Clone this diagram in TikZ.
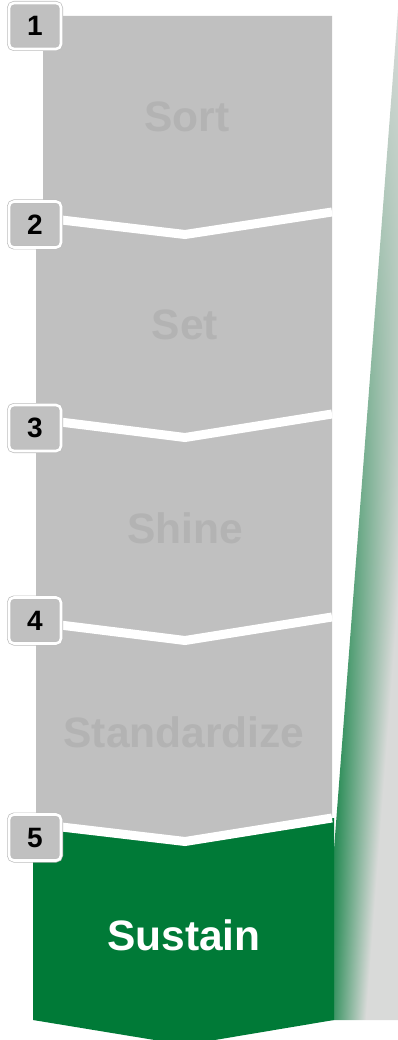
\documentclass[tikz,border=0pt]{standalone}
\usepackage{fontspec}
\setmainfont{Liberation Sans}
\usepackage{tikz}

\definecolor{stepgrey}{HTML}{C0C0C0}
\definecolor{stepgreen}{HTML}{007A37}
\definecolor{labelgrey}{HTML}{B3B3B3}
\definecolor{rimgrey}{HTML}{BDBDBD}

% green fading into grey, left edge follows the slant, paler towards the top
\pgfdeclarefunctionalshading{stepshade}{\pgfpointorigin}{\pgfpoint{100bp}{100bp}}{}{
  2 copy sub 2 mul 58 div
  dup 0 lt {pop 0} if dup 1 gt {pop 1} if
  1 exch sub
  exch 25 sub 50 div
  dup 0 lt {pop 0} if dup 1 gt {pop 1} if
  1 exch sub
  mul exch pop
  dup 0.851 mul 0.851 exch sub exch
  dup 0.377 mul 0.855 exch sub exch
  0.635 mul 0.851 exch sub
}

\begin{document}
\begin{tikzpicture}[
  x=1pt, y=-1pt,
  stepname/.style={font=\bfseries\fontsize{42.5}{42.5}\selectfont, text=labelgrey},
  stepnum/.style={draw=rimgrey, double=white, double distance=2.6pt, line width=0.7pt,
    fill=stepgrey, rounded corners=5pt, minimum width=52pt, minimum height=46pt,
    inner sep=0pt, font=\bfseries\fontsize{28}{28}\selectfont},
  gap/.style={white, line width=9pt}
]
\useasboundingbox (0,0) rectangle (398,1040);

% side shade
\shade[shading=stepshade] (398,10) -- (321,1020) -- (398,1020) -- cycle;

\coordinate (l1) at (36,217);  \coordinate (m1) at (185,234.5); \coordinate (r1) at (332,212);
\coordinate (l2) at (36,419);  \coordinate (m2) at (185,437.5); \coordinate (r2) at (332,414);
\coordinate (l3) at (36,622);  \coordinate (m3) at (185,640.5); \coordinate (r3) at (332,617);
\coordinate (l4) at (36,824);  \coordinate (m4) at (185,841.5); \coordinate (r4) at (332,818);

% steps
\fill[stepgrey] (43,16) -- (332,16) -- (r1) -- (m1) -- (43,218) -- cycle;
\fill[stepgrey] (l1) -- (m1) -- (r1) -- (r2) -- (m2) -- (l2) -- cycle;
\fill[stepgrey] (l2) -- (m2) -- (r2) -- (r3) -- (m3) -- (l3) -- cycle;
\fill[stepgrey] (l3) -- (m3) -- (r3) -- (r4) -- (m4) -- (l4) -- cycle;
\fill[stepgreen] (33,824) -- (m4) -- (334,818) -- (334,1020) -- (185,1045) -- (33,1020) -- cycle;

\draw[gap] (l1) -- (m1) -- (r1);
\draw[gap] (l2) -- (m2) -- (r2);
\draw[gap] (l3) -- (m3) -- (r3);
\draw[gap] (l4) -- (m4) -- (r4);

\node[stepname] (sort) at (187,117) {Sort};
\node[stepname] (set) at (185,325) {Set};
\node[stepname] (shine) at (185,528) {Shine};
\node[stepname] (standardize) at (184,732) {Standardize};
\node[stepname, text=white] (sustain) at (184,935) {Sustain};

\node[stepnum] (n1) at (35,26) {1};
\node[stepnum] (n2) at (35,224.5) {2};
\node[stepnum] (n3) at (35,428) {3};
\node[stepnum] (n4) at (35,620.5) {4};
\node[stepnum] (n5) at (35,837.5) {5};
\end{tikzpicture}
\end{document}
